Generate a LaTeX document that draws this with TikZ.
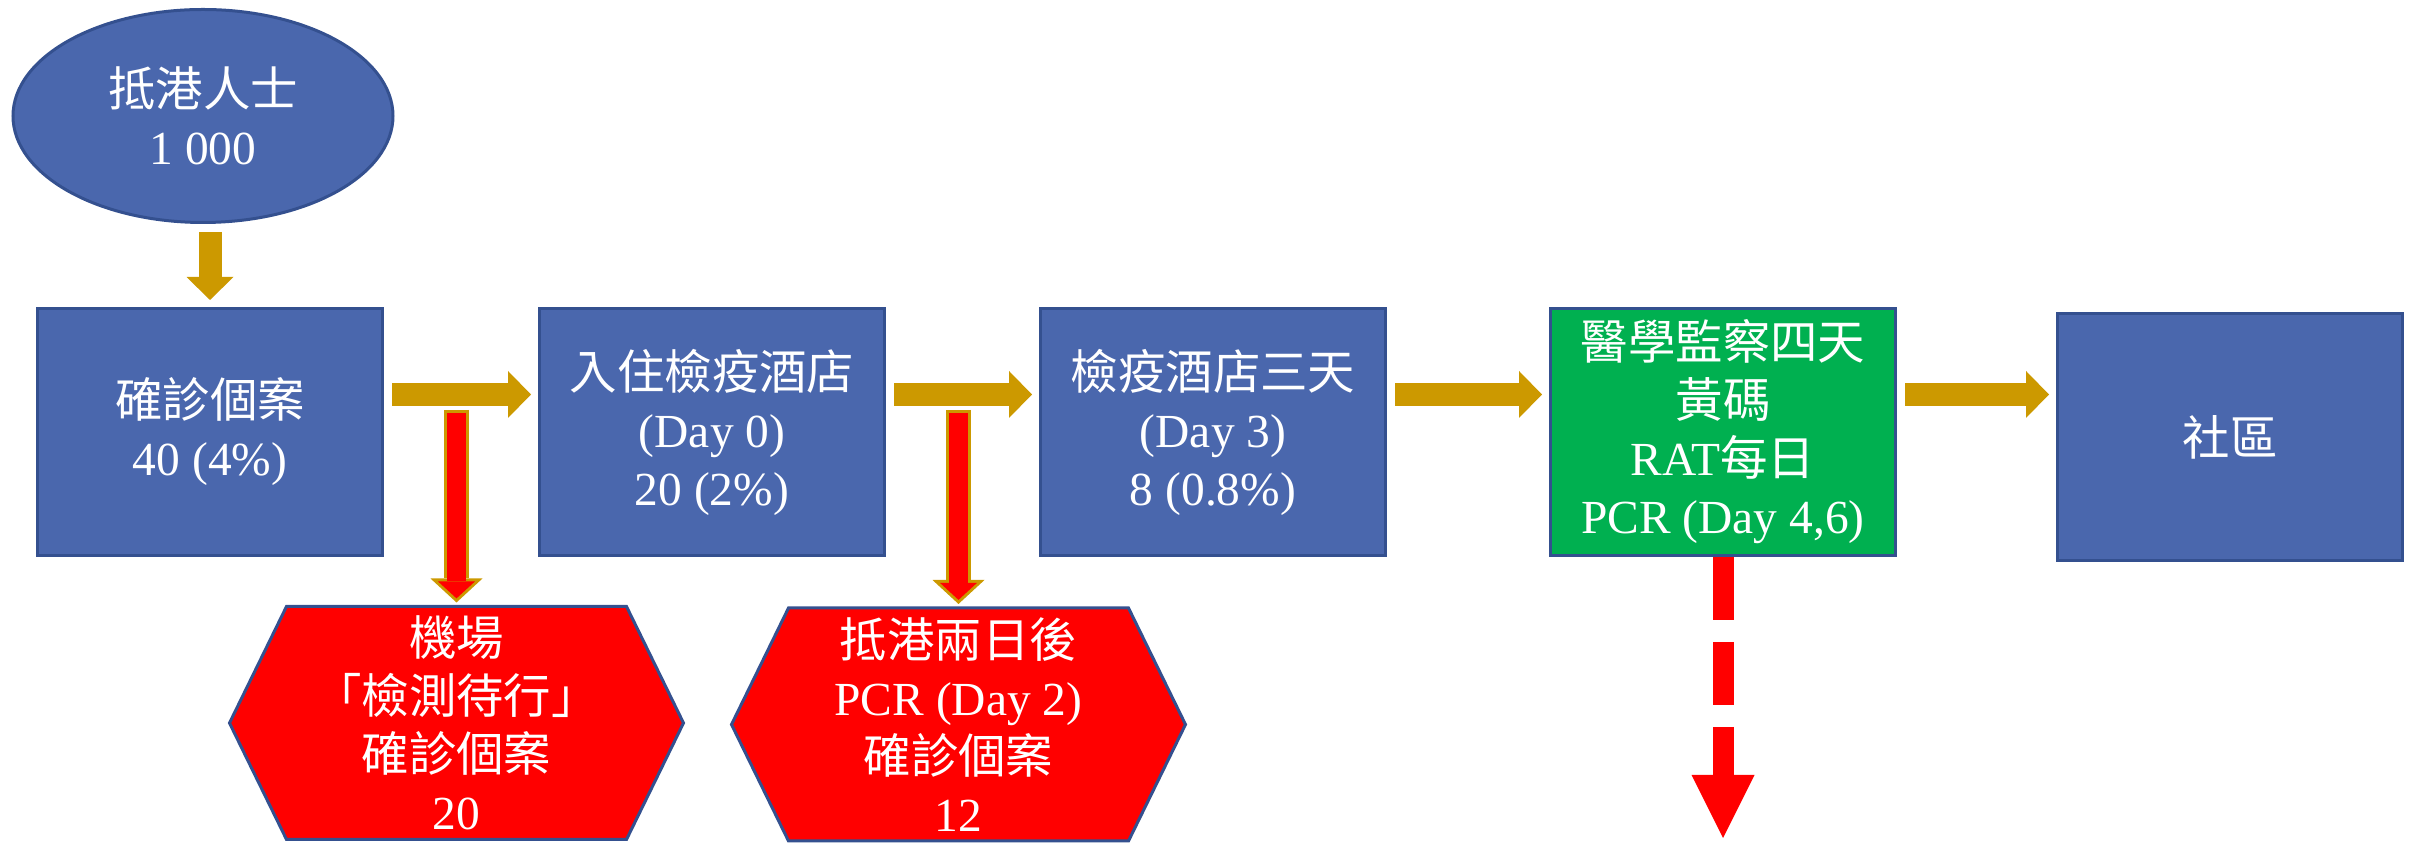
\documentclass[tikz,border=0pt]{standalone}
\usepackage{fontspec}
\setmainfont{Liberation Serif}
\newfontfamily\cjk{Noto Sans CJK TC}
\usetikzlibrary{positioning,arrows.meta,shapes.geometric,backgrounds}
\definecolor{boxblue}{HTML}{4A67AD}
\definecolor{boxline}{HTML}{34508F}
\definecolor{arrowgold}{HTML}{CC9900}
\definecolor{greenbox}{HTML}{00B050}
\definecolor{alertred}{HTML}{FF0000}
\tikzset{
    label font/.style={text=white, align=center, font=\fontsize{13.5}{16.5}\selectfont},
    stage/.style={rectangle, draw=boxline, line width=0.03cm, fill=boxblue, label font,
        minimum width=3.45cm, minimum height=2.47cm, inner sep=0pt},
    oval/.style={ellipse, draw=boxline, line width=0.03cm, fill=boxblue, label font,
        minimum width=3.8cm, minimum height=2.13cm, inner sep=0pt},
    hexbox/.style={label font, minimum width=4.54cm, minimum height=2.33cm, inner sep=0pt, outer sep=0pt},
    hexfill/.style={draw=boxline, line width=0.03cm, fill=alertred},
    flow/.style={draw=arrowgold, line width=0.23cm, shorten <=0.08cm, shorten >=0.07cm,
        -{Triangle[length=0.23cm, width=0.47cm, line width=0pt]}},
    alertout/.style={draw=arrowgold, line width=0.25cm,
        -{Triangle[length=0.24cm, width=0.52cm, line width=0pt]}},
    alertin/.style={draw=alertred, line width=0.19cm, shorten <=0.03cm, shorten >=0.041cm,
        -{Triangle[length=0.17cm, width=0.37cm, line width=0pt]}},
    leak/.style={draw=alertred, line width=0.21cm, dash pattern=on 0.63cm off 0.22cm,
        -{Triangle[length=0.63cm, width=0.63cm, line width=0pt]}}
}
\begin{document}
\begin{tikzpicture}
    \useasboundingbox (0,0) rectangle (24.12,8.43);
    % Stages
    \node [oval] (arrivals) at (2.03,7.27) {{\cjk 抵港人士}\\1 000};
    \node [stage] (cases) at (2.10,4.11) {{\cjk 確診個案}\\40 (4\%)};
    \node [stage, right=1.54cm of cases] (hotel) {{\cjk 入住檢疫酒店}\\(Day 0)\\20 (2\%)};
    \node [stage, right=1.53cm of hotel] (hotelthree) {{\cjk 檢疫酒店三天}\\(Day 3)\\8 (0.8\%)};
    \node [stage, fill=greenbox, right=1.62cm of hotelthree] (medical)
        {{\cjk 醫學監察四天}\\{\cjk 黃碼}\\RAT{\cjk 每日}\\PCR (Day 4,6)};
    \node [stage, right=1.59cm of medical, yshift=-0.055cm] (community) {{\cjk 社區}};
    % Positive cases
    \node [hexbox] (airport) at (4.565,1.20) {{\cjk 機場}\\{\cjk 「檢測待行」}\\{\cjk 確診個案}\\20};
    \node [hexbox] (daytwo) at (9.585,1.185) {{\cjk 抵港兩日後}\\PCR (Day 2)\\{\cjk 確診個案}\\12};
    \begin{scope}[on background layer]
        \foreach \h in {airport,daytwo}
            \filldraw [hexfill] (\h.west) -- ([xshift=0.57cm]\h.north west)
                -- ([xshift=-0.57cm]\h.north east) -- (\h.east)
                -- ([xshift=-0.57cm]\h.south east) -- ([xshift=0.57cm]\h.south west) -- cycle;
    \end{scope}
    % Flow arrows
    \draw [flow] (arrivals.south -| cases.north) -- (cases.north);
    \draw [flow] ([yshift=0.375cm]cases.east) -- ([yshift=0.375cm]hotel.west);
    \draw [flow] ([yshift=0.375cm]hotel.east) -- ([yshift=0.375cm]hotelthree.west);
    \draw [flow] ([yshift=0.375cm]hotelthree.east) -- ([yshift=0.375cm]medical.west);
    \draw [flow] ([yshift=0.375cm]medical.east) -- ([yshift=0.375cm]medical.east -| community.west);
    % Branches down
    \coordinate (split1) at ([yshift=0.22cm]cases.east -| airport.north);
    \coordinate (split2) at ([yshift=0.22cm]hotel.east -| daytwo.north);
    \draw [alertout] (split1) -- ([yshift=0.04cm]airport.north);
    \draw [alertin] (split1) -- ([yshift=0.04cm]airport.north);
    \draw [alertout] (split2) -- ([yshift=0.04cm]daytwo.north);
    \draw [alertin] (split2) -- ([yshift=0.04cm]daytwo.north);
    \coordinate (leakend) at ([yshift=-2.81cm]medical.south);
    \draw [leak] (medical.south) -- (leakend);
\end{tikzpicture}
\end{document}
